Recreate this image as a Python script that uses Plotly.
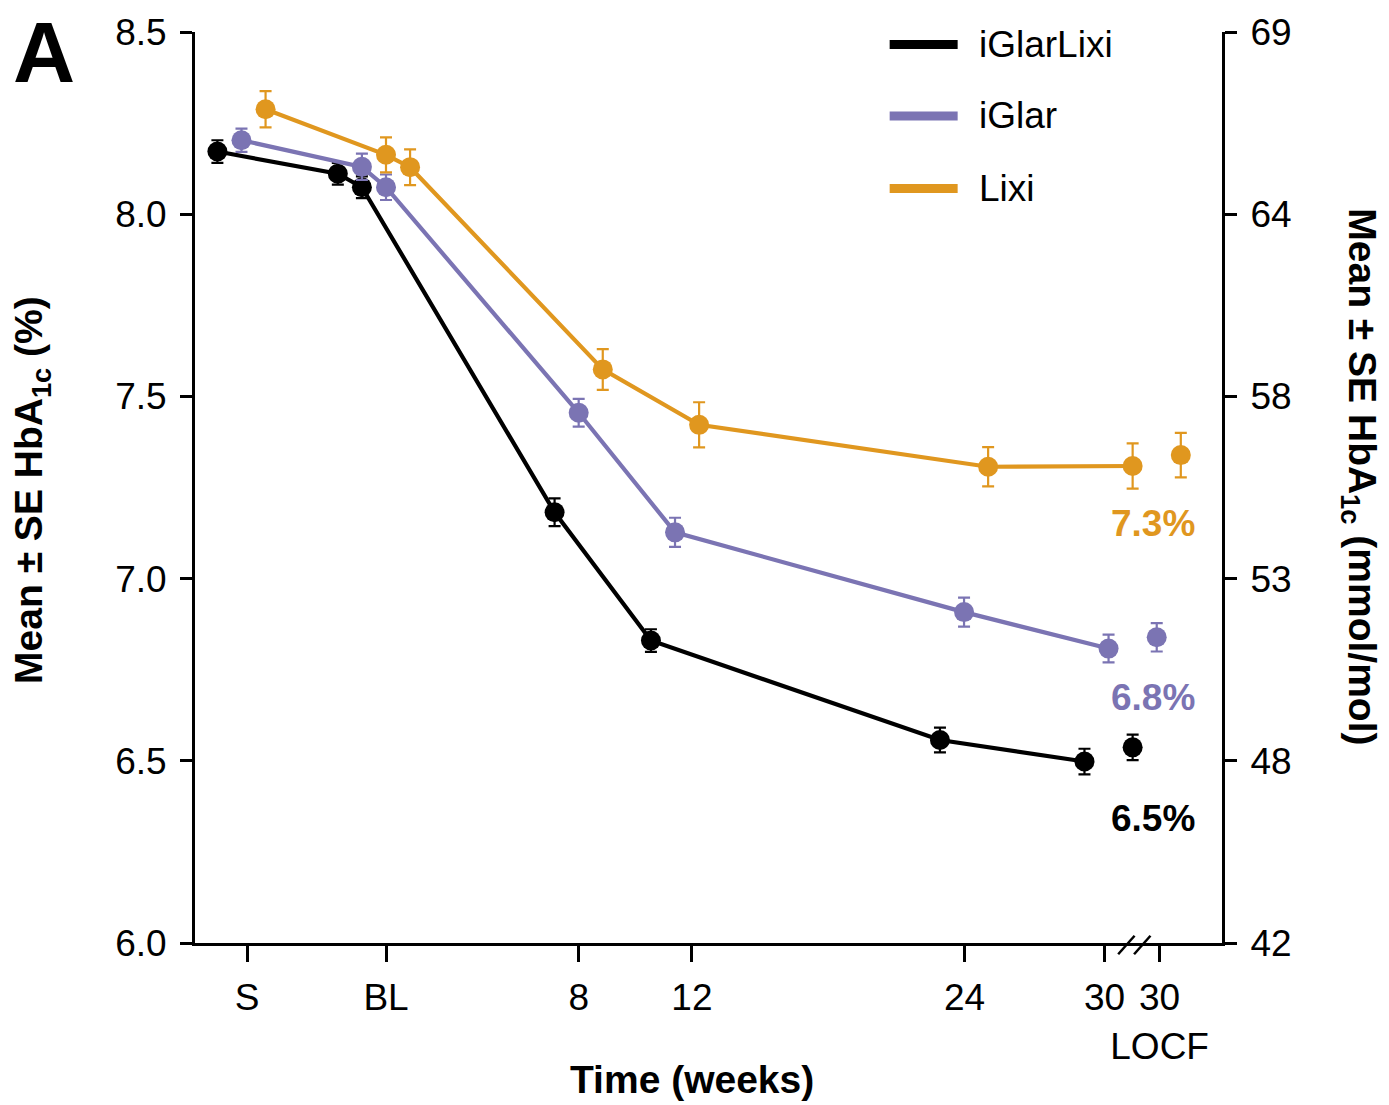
import plotly.graph_objects as go

# ---------------- data ----------------
series_names = ["iGlarLixi", "iGlar", "Lixi"]
series_colors = ["#000000", "#7B74B3", "#E0971F"]

# visit weeks (S = screening, -1 = end of run-in, BL = baseline)
visit_weeks = [-6, -1, 0, 8, 12, 24, 30]
locf_week = 32  # plotted position of the week-30 LOCF value

iglarlixi_mean = [8.172, 8.111, 8.074, 7.182, 6.830, 6.557, 6.498]
iglarlixi_se = [0.031, 0.030, 0.030, 0.038, 0.031, 0.034, 0.035]
iglarlixi_locf = 6.537
iglarlixi_locf_se = 0.035

iglar_mean = [8.203, 8.130, 8.074, 7.455, 7.127, 6.908, 6.808]
iglar_se = [0.032, 0.036, 0.035, 0.038, 0.040, 0.040, 0.038]
iglar_locf = 6.839
iglar_locf_se = 0.039

lixi_mean = [8.288, 8.163, 8.129, 7.574, 7.422, 7.307, 7.309]
lixi_se = [0.050, 0.048, 0.049, 0.056, 0.062, 0.054, 0.062]
lixi_locf = 7.339
lixi_locf_se = 0.061

end_labels = ["6.5%", "6.8%", "7.3%"]

x_tick_text = ["S", "BL", "8", "12", "24", "30", "30<br>LOCF"]
y_tick_vals = [6.0, 6.5, 7.0, 7.5, 8.0, 8.5]
y_tick_text = ["6.0", "6.5", "7.0", "7.5", "8.0", "8.5"]
y2_tick_text = ["42", "48", "53", "58", "64", "69"]

# ---------------- layout helpers ----------------
x_tick_pos = [-5.77, 0, 8.0, 12.7, 24.02, 29.83, 32.12]
dodge = [-1.0, 0.0, 1.0]
end_label_y = [6.341, 6.673, 7.152]

FONT = "Liberation Sans, Arial, Helvetica, sans-serif"

means = [iglarlixi_mean, iglar_mean, lixi_mean]
ses = [iglarlixi_se, iglar_se, lixi_se]
locfs = [iglarlixi_locf, iglar_locf, lixi_locf]
locf_ses = [iglarlixi_locf_se, iglar_locf_se, lixi_locf_se]

fig = go.Figure()
for name, col, m, s, lm, ls, d in zip(series_names, series_colors, means, ses,
                                      locfs, locf_ses, dodge):
    fig.add_trace(go.Scatter(
        x=[w + d for w in visit_weeks], y=m, name=name,
        mode="lines+markers",
        line=dict(color=col, width=4.2),
        marker=dict(color=col, size=20),
        error_y=dict(type="data", array=s, color=col, thickness=2.2, width=6),
        showlegend=False, cliponaxis=False))
    fig.add_trace(go.Scatter(
        x=[locf_week + d], y=[lm], name=name + " LOCF",
        mode="markers",
        marker=dict(color=col, size=20),
        error_y=dict(type="data", array=[ls], color=col, thickness=2.2, width=6),
        showlegend=False, cliponaxis=False))

# invisible trace to carry the right-hand axis
fig.add_trace(go.Scatter(x=[None], y=[None], yaxis="y2", showlegend=False,
                         hoverinfo="skip"))

annotations = []
# end-of-study labels
for txt, col, yy in zip(end_labels, series_colors, end_label_y):
    annotations.append(dict(x=30.0, y=yy, xref="x", yref="y", text="<b>" + txt + "</b>",
                            showarrow=False, xanchor="left", yanchor="middle",
                            font=dict(size=37, color=col, family=FONT)))

# manual legend
legend_y = [0.9863, 0.9079, 0.8281]
shapes = []
for name, col, ly in zip(series_names, series_colors, legend_y):
    shapes.append(dict(type="line", xref="paper", yref="paper",
                       x0=0.6764, x1=0.7426, y0=ly, y1=ly,
                       line=dict(color=col, width=9)))
    annotations.append(dict(x=0.761, y=ly, xref="paper", yref="paper", text=name,
                            showarrow=False, xanchor="left", yanchor="middle",
                            font=dict(size=37, color="black", family=FONT)))

# axis break marks
for x0, x1 in [(30.40, 31.08), (31.06, 31.74)]:
    shapes.append(dict(type="line", xref="x", yref="paper",
                       x0=x0, x1=x1, y0=-0.0124, y1=0.008,
                       line=dict(color="black", width=2.5)))

# titles
annotations += [
    dict(x=-0.1586, y=0.4975, xref="paper", yref="paper", textangle=-90,
         text="<b>Mean ± SE HbA<sub>1c</sub> (%)</b>", showarrow=False,
         xanchor="center", yanchor="middle",
         font=dict(size=39, color="black", family=FONT)),
    dict(x=1.1338, y=0.5118, xref="paper", yref="paper", textangle=90,
         text="<b>Mean ± SE HbA<sub>1c</sub> (mmol/mol)</b>", showarrow=False,
         xanchor="center", yanchor="middle",
         font=dict(size=39, color="black", family=FONT)),
    dict(x=0.4837, y=-0.1498, xref="paper", yref="paper",
         text="<b>Time (weeks)</b>", showarrow=False,
         xanchor="center", yanchor="middle",
         font=dict(size=39, color="black", family=FONT)),
    dict(x=-0.147, y=0.9776, xref="paper", yref="paper",
         text="<b>A</b>", showarrow=False, xanchor="center", yanchor="middle",
         font=dict(size=86, color="black", family=FONT)),
]

axis_common = dict(showline=True, linecolor="black", linewidth=3,
                   ticks="outside", tickwidth=3, tickcolor="black",
                   showgrid=False, zeroline=False,
                   tickfont=dict(size=37, color="black", family=FONT))

fig.update_layout(
    width=1389, height=1105,
    margin=dict(l=195, r=166.5, t=28.5, b=162),
    paper_bgcolor="white", plot_bgcolor="white",
    showlegend=False,
    font=dict(family=FONT, color="black"),
    xaxis=dict(range=[-7.93, 34.71], tickmode="array", tickvals=x_tick_pos,
               ticktext=x_tick_text, ticklen=16, tickangle=0,
               ticklabelstandoff=4, **axis_common),
    yaxis=dict(range=[6.0, 8.5], tickmode="array", tickvals=y_tick_vals,
               ticktext=y_tick_text, ticklen=12, ticklabelstandoff=6,
               **axis_common),
    yaxis2=dict(range=[6.0, 8.5], overlaying="y", side="right", tickmode="array",
                tickvals=y_tick_vals, ticktext=y2_tick_text, ticklen=12,
                ticklabelstandoff=6, **axis_common),
    annotations=annotations,
    shapes=shapes,
)

fig.write_html("out.html")
